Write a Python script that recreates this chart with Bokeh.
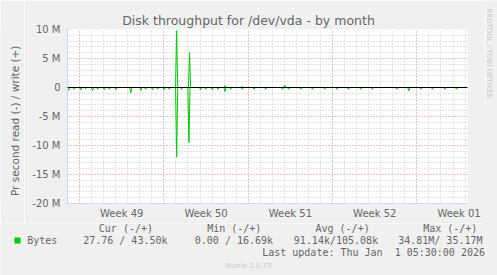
import math
from bokeh.plotting import figure
from bokeh.layouts import row, column
from bokeh.models import FixedTicker, Span, Label, Range1d, BoxAnnotation, Title
from bokeh.embed import file_html
from bokeh.resources import INLINE

# ---- data (days from Mon Dec 1 2025; values in MB/s) ----
read_days = [-0.91, -0.44, 0.11, 0.50, 1.08, 1.50, 2.05, 2.47, 3.01, 4.26, 5.09, 5.48,
             6.06, 6.48, 7.03, 7.45, 8.06, 8.47, 9.08, 10.05, 10.47, 11.02, 11.49, 12.07,
             12.54, 13.51, 14.48, 15.45, 16.84, 17.36, 18.36, 19.33, 20.35, 21.35, 22.32,
             23.34, 24.31, 26.33, 27.33, 28.32, 29.29, 30.32, 31.29]
read_mb = [0.5, 0.3, 0.4, 0.2, 0.5, 0.3, 0.4, 0.3, 0.4, 0.9, 0.5, 0.3,
           0.4, 0.3, 0.4, 0.3, 12.0, 0.3, 9.5, 0.4, 0.3, 0.4, 0.3, 0.7,
           0.3, 0.3, 0.3, 0.3, 0.3, 0.3, 0.3, 0.3, 0.3, 0.3, 0.3,
           0.3, 0.3, 0.3, 0.6, 0.3, 0.3, 0.3, 0.3]
write_days = [8.06, 9.13, 12.07, 13.51, 17.03]
write_mb = [9.8, 6.0, 0.3, 0.2, 0.4]

week_pos = [3.5, 10.5, 17.5, 24.5, 31.5]
week_labels = ["Week 49", "Week 50", "Week 51", "Week 52", "Week 01"]
y_ticks = [-20e6, -15e6, -10e6, -5e6, 0, 5e6, 10e6]
y_labels = ["-20 M", "-15 M", "-10 M", "-5 M", "0", "5 M", "10 M"]

title_text = "Disk throughput for /dev/vda - by month"
legend_name = "Bytes"
col_heads = ["Cur (-/+)", "Min (-/+)", "Avg (-/+)", "Max (-/+)"]
col_vals = ["27.76 / 43.50k", "0.00 / 16.69k", "91.14k/105.08k", "34.81M/ 35.17M"]
last_update = "Last update: Thu Jan\u00a0 1 05:30:00 2026"

X0, X1 = -1.0, 32.2
HALF = 0.09


def spike_line(days, vals, sign):
    xs, ys = [X0], [0.0]
    for d, v in sorted(zip(days, vals)):
        xs += [d - HALF, d, d + HALF]
        ys += [0.0, sign * v * 1e6, 0.0]
    xs.append(X1)
    ys.append(0.0)
    return xs, ys


BG = "#F0F0F0"
FONT = "#666666"
AXIS = "#CFD6F8"
GREEN = "#00CC00"
MONO = "DejaVu Sans Mono"

W, H = 497, 275
LEFT_W = 24
RIGHT_W = 12
MAIN_LB, MAIN_RB, MAIN_TB, MAIN_BB = 43, 18, 29, 20
FW, FH = 400, 174
MAIN_W = MAIN_LB + FW + MAIN_RB
MAIN_H = MAIN_TB + FH + MAIN_BB
LCOL_W = W - RIGHT_W
BOT_H = H - MAIN_H


def panel(ox, oy, w, h):
    f = figure(width=w, height=h, x_range=Range1d(ox, ox + w), y_range=Range1d(oy + h, oy),
               output_backend="svg", toolbar_location=None, title=None,
               x_axis_type=None, y_axis_type=None,
               min_border_left=0, min_border_right=0, min_border_top=0, min_border_bottom=0)
    f.background_fill_color = BG
    f.border_fill_color = BG
    f.outline_line_color = None
    f.grid.visible = False
    return f


def lab(f, X, Y, text, size="10px", font="DejaVu Sans", color=FONT, align="left", angle=0.0):
    f.add_layout(Label(x=X, y=Y, text=text, text_font=font, text_font_size=size,
                       text_color=color, text_align=align, text_baseline="middle", angle=angle))


# ---------------- main chart ----------------
p = figure(width=MAIN_W, height=MAIN_H, x_range=(X0, X1), y_range=(-20e6, 10e6),
           output_backend="svg", toolbar_location=None,
           title=Title(text=title_text, align="left", offset=54.7, standoff=4,
                       text_font="DejaVu Sans", text_font_size="12.5px",
                       text_font_style="normal", text_color=FONT),
           min_border_left=MAIN_LB, min_border_right=MAIN_RB,
           min_border_top=MAIN_TB, min_border_bottom=MAIN_BB)
p.background_fill_color = "#FFFFFF"
p.border_fill_color = BG
p.outline_line_color = None

p.xaxis.ticker = FixedTicker(ticks=week_pos)
p.xaxis.major_label_overrides = {float(k): v for k, v in zip(week_pos, week_labels)}
p.xaxis.major_tick_line_color = None
p.xaxis.minor_tick_line_color = None
p.xaxis.major_tick_out = 0
p.xaxis.major_label_standoff = 4
p.xaxis.axis_line_color = AXIS
p.xaxis.major_label_text_font = "DejaVu Sans"
p.xaxis.major_label_text_font_size = "10px"
p.xaxis.major_label_text_color = FONT

p.yaxis.ticker = FixedTicker(ticks=y_ticks, minor_ticks=[i * 1e6 for i in range(-20, 11)])
p.yaxis.major_label_overrides = {float(k): v for k, v in zip(y_ticks, y_labels)}
p.yaxis.axis_line_color = AXIS
p.yaxis.major_tick_line_color = AXIS
p.yaxis.minor_tick_line_color = AXIS
p.yaxis.major_tick_in = 2
p.yaxis.major_tick_out = 2
p.yaxis.minor_tick_in = 1
p.yaxis.minor_tick_out = 1
p.yaxis.major_label_standoff = 5
p.yaxis.major_label_text_font = "DejaVu Sans"
p.yaxis.major_label_text_font_size = "10px"
p.yaxis.major_label_text_color = FONT

p.xgrid.ticker = FixedTicker(ticks=[0, 7, 14, 21, 28], minor_ticks=list(range(-1, 33)))
p.ygrid.ticker = FixedTicker(ticks=y_ticks, minor_ticks=[i * 1e6 for i in range(-20, 11)])
for g in (p.xgrid, p.ygrid):
    g.grid_line_color = "#E8A0A0"
    g.grid_line_dash = "1 2"
    g.minor_grid_line_color = "#C8C8C8"
    g.minor_grid_line_dash = "1 2"

rx, ry = spike_line(read_days, read_mb, -1)
wx, wy = spike_line(write_days, write_mb, 1)
p.line(rx, ry, line_color=GREEN, line_width=1)
p.line(wx, wy, line_color=GREEN, line_width=1)
p.add_layout(Span(location=0, dimension="width", line_color="black", line_width=1))

# ---------------- surrounding panels (global canvas coordinates) ----------------
left = panel(0, 0, LEFT_W, MAIN_H)
lab(left, 14, 117, "Pr second read (-) / write (+)", size="10.5px", align="center", angle=math.pi / 2)

right = panel(LCOL_W, 0, RIGHT_W, H)
lab(right, 488.5, 53, "RRDTOOL / TOBI OETIKER", size="7px", color="#C8C8C8", align="center",
    angle=-math.pi / 2)

bottom = panel(0, MAIN_H, LCOL_W, BOT_H)
head_x = [98.3, 206.7, 315.0, 422.7]
val_x = [82.7, 194.3, 293.3, 397.7]
for hx, ht in zip(head_x, col_heads):
    lab(bottom, hx, 228, ht, font=MONO)
for vx, vt in zip(val_x, col_vals):
    lab(bottom, vx, 240, vt, font=MONO)
lab(bottom, 26.7, 240, legend_name, font=MONO)
lab(bottom, 261.7, 252, last_update, font=MONO)
lab(bottom, 248, 265, "Munin 2.0.73", size="7px", color="#C8C8C8", align="center")
bottom.add_layout(BoxAnnotation(left=14, right=20, top=237, bottom=243,
                                fill_color=GREEN, fill_alpha=1.0, line_color=None))

layout = row(column(row(left, p), bottom), right)
open("out.html", "w").write(file_html(layout, INLINE))
